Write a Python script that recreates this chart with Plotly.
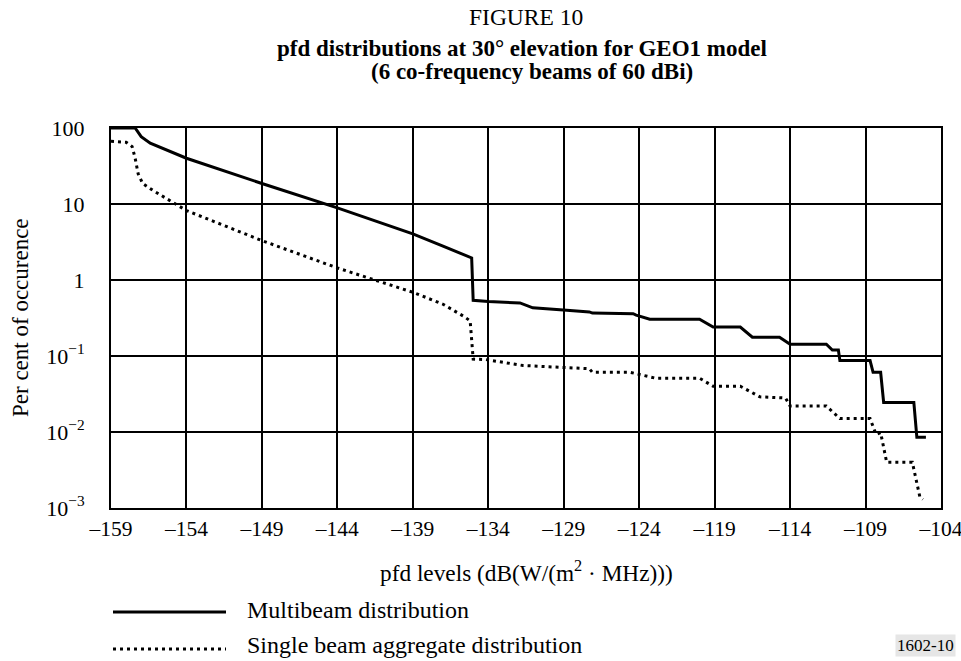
import plotly.graph_objects as go

# ---- data ----
multibeam_x = [-159, -157.4, -157.0, -156.4, -154, -149, -144, -139, -137.0, -135.7, -135.1,
               -135.0, -134, -131.9, -131.05, -128.8, -127.3, -127.1, -124.4, -124.2, -123.3,
               -120, -119.1, -117.3, -116.5, -114.7, -114.0, -111.6, -111.2, -110.8, -110.7,
               -108.7, -108.5, -108.0, -107.8, -105.8, -105.6, -105.0]
multibeam_y = [100, 100, 77, 63, 40, 18.6, 8.9, 4.05, 2.8, 2.2, 1.95,
               0.54, 0.52, 0.50, 0.43, 0.40, 0.38, 0.367, 0.36, 0.345, 0.305,
               0.305, 0.24, 0.24, 0.177, 0.177, 0.143, 0.143, 0.12, 0.12, 0.087,
               0.087, 0.061, 0.061, 0.0245, 0.0245, 0.0085, 0.0085]

single_x = [-159, -158.0, -157.6, -157.4, -157.2, -156.9, -156.2, -155.1, -154, -149, -144,
            -139, -137.0, -135.6, -135.2, -135.0, -134.2, -131.7, -127.3, -127.1, -124.6,
            -122.9, -120, -119.1, -117.3, -116.0, -114.3, -114.0, -111.6, -110.7, -108.7,
            -108.3, -108.0, -107.6, -105.9, -105.4, -105.2]
single_y = [67, 65, 57, 40, 25, 18.6, 15, 11, 8.2, 3.3, 1.44,
            0.69, 0.48, 0.33, 0.29, 0.091, 0.09, 0.075, 0.068, 0.061, 0.061,
            0.051, 0.051, 0.040, 0.040, 0.029, 0.028, 0.022, 0.022, 0.015, 0.015,
            0.0093, 0.0098, 0.0040, 0.0040, 0.0014, 0.0013]

x_ticks = [-159, -154, -149, -144, -139, -134, -129, -124, -119, -114, -109, -104]
x_tick_labels = ["\u2013" + str(-v) for v in x_ticks]
y_ticks = [0.001, 0.01, 0.1, 1, 10, 100]
y_tick_labels = ["10<sup>\u22123</sup>", "10<sup>\u22122</sup>", "10<sup>\u22121</sup>", "1", "10", "100"]

series_names = ["Multibeam distribution", "Single beam aggregate distribution"]

FONT = "Liberation Serif, Times New Roman, serif"

# ---- layout geometry (pixels) ----
W, H = 961, 661
L, R, T, B = 111, 941, 128, 508


def px_x(p):
    return (p - L) / (R - L)


def px_y(p):
    return (B - p) / (B - T)


fig = go.Figure()
fig.add_trace(go.Scatter(x=multibeam_x, y=multibeam_y, mode="lines",
                         line=dict(color="black", width=3), name=series_names[0],
                         showlegend=False))
fig.add_trace(go.Scatter(x=single_x, y=single_y, mode="lines",
                         line=dict(color="black", width=3, dash="3px,4px"), name=series_names[1],
                         showlegend=False))

fig.update_layout(
    width=W, height=H, autosize=False,
    margin=dict(l=L, r=W - R, t=T, b=H - B, pad=0, autoexpand=False),
    paper_bgcolor="white", plot_bgcolor="white",
    font=dict(family=FONT, color="black", size=22),
    showlegend=False,
)
fig.update_xaxes(range=[-159, -104], tickvals=x_ticks, ticktext=x_tick_labels,
                 showgrid=True, gridcolor="black", gridwidth=2,
                 showline=True, linecolor="black", linewidth=2, mirror=True,
                 zeroline=False, ticks="", ticklabelstandoff=0, ticklabeloverflow="allow",
                 automargin=False, tickfont=dict(size=21.5, family=FONT))
fig.update_yaxes(type="log", range=[-3, 2], tickvals=y_ticks, ticktext=y_tick_labels,
                 showgrid=True, gridcolor="black", gridwidth=2,
                 showline=True, linecolor="black", linewidth=2, mirror=True,
                 zeroline=False, ticks="", ticklabelstandoff=20, ticklabeloverflow="allow",
                 automargin=False, tickfont=dict(size=22, family=FONT))


def note(text, x, y, size, xanchor="center", **kw):
    return dict(text=text, x=px_x(x), y=px_y(y), xref="paper", yref="paper",
                xanchor=xanchor, yanchor="middle", showarrow=False,
                font=dict(size=size, family=FONT, color="black"), **kw)


ann = [
    note("FIGURE 10", 526, 17, 23.5),
    note("<b>pfd distributions at 30\u00b0 elevation for GEO1 model</b>", 522, 49, 23),
    note("<b>(6 co-frequency beams of 60 dBi)</b>", 532, 71, 23),
    note("Per cent of occurence", 20, 318, 23),
    note("pfd levels (dB(W/(m<sup>2</sup> \u00b7 MHz)))", 526, 571, 23.3),
    note(series_names[0], 245, 610, 24, xanchor="left"),
    note(series_names[1], 245, 645, 24, xanchor="left"),
    note("1602-10", 925, 645, 17, bgcolor="#e6e6e6", borderpad=1),
]
ann[3]["textangle"] = -90
fig.update_layout(annotations=ann)

shapes = [
    dict(type="line", xref="paper", yref="paper", x0=px_x(113), x1=px_x(226),
         y0=px_y(612), y1=px_y(612), line=dict(color="black", width=3)),
    dict(type="line", xref="paper", yref="paper", x0=px_x(113), x1=px_x(226),
         y0=px_y(649), y1=px_y(649), line=dict(color="black", width=3, dash="3px,4px")),
]
fig.update_layout(shapes=shapes)

fig.write_html("out.html")
